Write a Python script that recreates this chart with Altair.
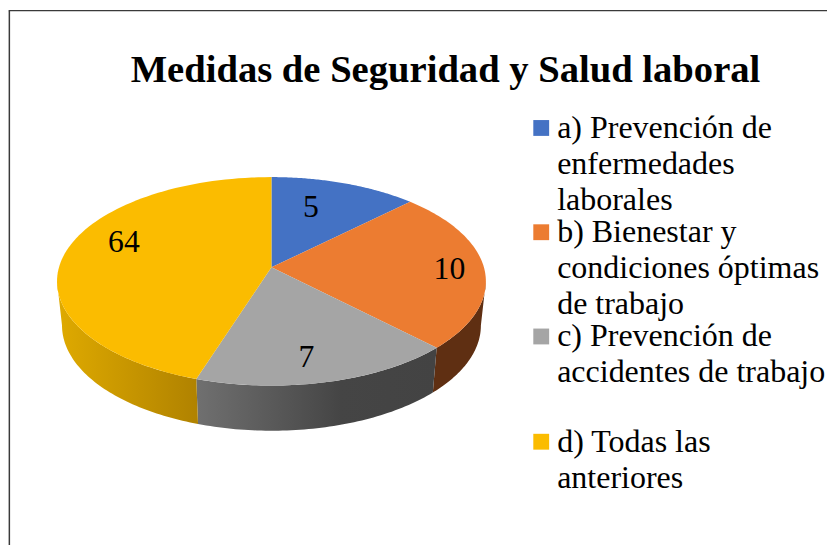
import math
import altair as alt
import pandas as pd

# ---- values
categories = ["a", "b", "c", "d"]
slice_share = [11.2, 24.8, 19.7, 44.3]   # visible share of each slice (%)
slice_label = [5, 10, 7, 64]             # printed data labels
title = "Medidas de Seguridad y Salud laboral"
legend_lines = [
    ["a) Prevención de", "enfermedades", "laborales"],
    ["b) Bienestar y", "condiciones óptimas", "de trabajo"],
    ["c) Prevención de", "accidentes de trabajo"],
    ["d) Todas las", "anteriores"],
]
top_colors = ["#4472C4", "#EC7C31", "#A5A5A5", "#FBBC00"]

# ---- layout
W, H = 827, 537
FONT = "Liberation Serif"
CX, CY, RX, RY = 271.5, 282, 215, 104      # top face ellipse
APEX = (271.5, 268)                        # tilted apex of the pie
BCY, BRX, BRY = 326, 210, 105              # lower rim ellipse
LABEL_POLAR = [(14.5, .735), (82, .838), (167.3, .74), (298.8, .785)]
LEGEND_FIRST = [129, 233, 337, 442]
LEGEND_STEP = 36
SQUARE_X = 542
TEXT_X = 558
wall_fill = {
    "b": "#5F2F12",
    "c": alt.Gradient(gradient="linear", x1=0, x2=1, y1=0, y2=0,
                      stops=[alt.GradientStop(color="#707070", offset=0),
                             alt.GradientStop(color="#454545", offset=.6),
                             alt.GradientStop(color="#434343", offset=1)]),
    "d": alt.Gradient(gradient="linear", x1=0, x2=1, y1=0, y2=0,
                      stops=[alt.GradientStop(color="#DFAA00", offset=0),
                             alt.GradientStop(color="#B08200", offset=1)]),
}

xs = alt.Scale(domain=[8, 835], range=[0.66, 833.5], nice=False, zero=False)
ys = alt.Scale(domain=[8, 545], range=[-3.95, 539.6], nice=False, zero=False)
X = lambda f="x": alt.X(f"{f}:Q", scale=xs, axis=None)
Y = lambda f="y": alt.Y(f"{f}:Q", scale=ys, axis=None)


def rim(t, cy=CY, rx=RX, ry=RY):
    a = math.radians(t)
    return CX + rx * math.sin(a), cy - ry * math.cos(a)


def poly(points, fill):
    df = pd.DataFrame([{"x": p[0], "y": p[1], "i": i} for i, p in enumerate(points)])
    return alt.Chart(df).mark_line(fill=fill, strokeWidth=0, interpolate="linear").encode(
        x=X(), y=Y(), order=alt.Order("i:Q"))


layers = []
total = sum(slice_share)
edges = [0]
for s in slice_share:
    edges.append(edges[-1] + 360 * s / total)

# side walls (only the front half, 90..270 degrees, can be seen)
for k, cat in enumerate(categories):
    lo, hi = max(edges[k], 90), min(edges[k + 1], 270)
    if hi <= lo:
        continue
    ts = [lo + (hi - lo) * j / 60 for j in range(61)]
    pts = [rim(t) for t in ts] + [rim(t, BCY, BRX, BRY) for t in reversed(ts)]
    layers.append(poly(pts, wall_fill[cat]))

# top face
for k, cat in enumerate(categories):
    lo, hi = edges[k], edges[k + 1]
    ts = [lo + (hi - lo) * j / 90 for j in range(91)]
    layers.append(poly([APEX] + [rim(t) for t in ts], top_colors[k]))

# data labels
lab = pd.DataFrame([
    {"x": CX + RX * f * math.sin(math.radians(t)),
     "y": CY - RY * f * math.cos(math.radians(t)),
     "label": str(v)}
    for v, (t, f) in zip(slice_label, LABEL_POLAR)])
layers.append(alt.Chart(lab).mark_text(font=FONT, fontSize=32, color="#000000", baseline="middle", align="center")
              .encode(x=X(), y=Y(), text="label:N"))

# title
layers.append(alt.Chart(pd.DataFrame({"x": [446], "y": [71], "t": [title]}))
              .mark_text(font=FONT, fontSize=39, fontWeight="bold", color="#000000", baseline="middle", align="center")
              .encode(x=X(), y=Y(), text="t:N"))

# legend
sq = pd.DataFrame({"x": [SQUARE_X] * 4, "y": LEGEND_FIRST, "c": categories})
layers.append(alt.Chart(sq).mark_square(size=256, opacity=1, strokeWidth=0).encode(
    x=X(), y=Y(),
    color=alt.Color("c:N", scale=alt.Scale(domain=categories, range=top_colors), legend=None)))
rows = []
for first, lines in zip(LEGEND_FIRST, legend_lines):
    for j, line in enumerate(lines):
        rows.append({"x": TEXT_X, "y": first + j * LEGEND_STEP, "t": line})
layers.append(alt.Chart(pd.DataFrame(rows))
              .mark_text(font=FONT, fontSize=32.3, color="#000000", baseline="middle", align="left")
              .encode(x=X(), y=Y(), text="t:N"))

# frame (top and left only)
frame_c = "#3A3A3A"
layers.append(alt.Chart(pd.DataFrame({"x": [8], "x2": [835], "y": [12]}))
              .mark_rule(color=frame_c, strokeWidth=1.2)
              .encode(x=X(), x2="x2:Q", y=Y()))
layers.append(alt.Chart(pd.DataFrame({"x": [8.7], "y": [12], "y2": [545]}))
              .mark_rule(color=frame_c, strokeWidth=1.5)
              .encode(x=X(), y=Y(), y2="y2:Q"))

chart = alt.layer(*layers).properties(
    width=W, height=H, padding=0, background="white",
    autosize=alt.AutoSizeParams(type="none"),
).configure_view(stroke=None)

chart.save("out.html", embed_options={"renderer": "svg", "actions": False})
